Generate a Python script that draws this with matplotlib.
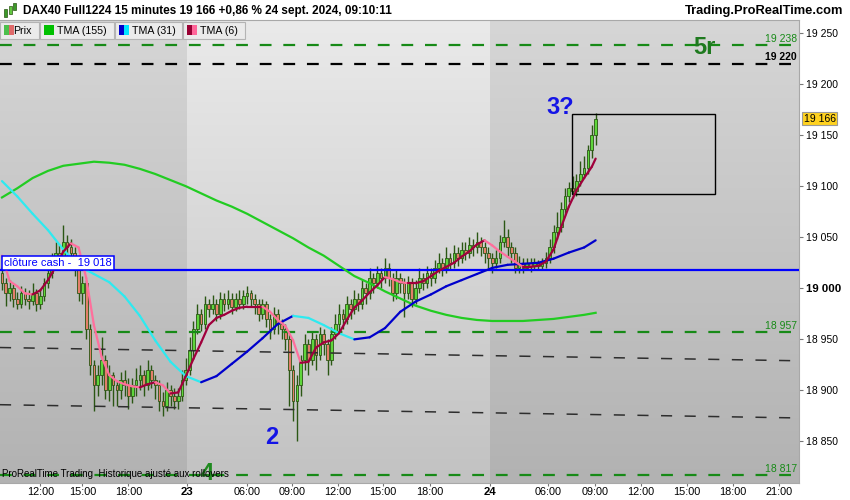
import numpy as np
import matplotlib
matplotlib.use('Agg')
import matplotlib.pyplot as plt
from matplotlib.patches import Rectangle
from matplotlib.collections import LineCollection
from matplotlib.colors import LinearSegmentedColormap
from matplotlib.transforms import blended_transform_factory

plt.rcParams['font.family'] = ['Liberation Sans', 'DejaVu Sans']
plt.rcParams['lines.scale_dashes'] = False

# ---- data : DAX40 Full1224, 15 minute bars (20 -> 24 sept. 2024) ----
first_open = 19015
close = [19005, 18995, 19000, 18990, 18985, 18995, 18990, 18988, 18995, 18985,
         18992, 19005, 19015, 19028, 19035, 19030, 19045, 19040, 19035, 19020,
         18995, 19005, 18960, 18925, 18905, 18915, 18930, 18900, 18915, 18905,
         18900, 18910, 18905, 18895, 18905, 18910, 18915, 18905, 18920, 18910,
         18905, 18890, 18885, 18900, 18895, 18890, 18895, 18910, 18920, 18940,
         18960, 18975, 18965, 18985, 18980, 18985, 18975, 18990, 18985, 18990,
         18982, 18990, 18985, 18992, 18995, 18990, 18985, 18975, 18985, 18970,
         18960, 18975, 18965, 18960, 18950, 18920, 18890, 18905, 18930, 18945,
         18930, 18950, 18935, 18955, 18945, 18930, 18955, 18965, 18975, 18970,
         18985, 18980, 18990, 18985, 19000, 18995, 19010, 19005, 19015, 19010,
         19020, 19010, 18995, 19010, 19005, 18995, 19005, 18990, 19000, 19010,
         19005, 19015, 19010, 19020, 19025, 19020, 19030, 19025, 19035, 19030,
         19038, 19035, 19042, 19040, 19045, 19040, 19035, 19030, 19025, 19030,
         19045, 19050, 19040, 19035, 19020, 19025, 19020, 19025, 19022, 19025,
         19022, 19025, 19030, 19040, 19055, 19060, 19078, 19090, 19098, 19095,
         19105, 19112, 19118, 19135, 19150, 19166]
high = [19022, 19010, 19008, 19004, 18996, 19002, 19000, 18998, 19005, 18999,
        18998, 19010, 19022, 19035, 19045, 19042, 19062, 19052, 19048, 19040,
        19025, 19012, 19008, 18965, 18930, 18925, 18952, 18935, 18925, 18918,
        18910, 18918, 18920, 18912, 18912, 18922, 18925, 18920, 18930, 18925,
        18915, 18910, 18898, 18908, 18905, 18902, 18902, 18920, 18932, 18952,
        18968, 18985, 18980, 18992, 18990, 18993, 18990, 18996, 18995, 18998,
        18995, 18995, 18998, 18998, 19002, 18998, 18994, 18990, 18990, 18988,
        18975, 18982, 18980, 18970, 18965, 18955, 18925, 18915, 18935, 18955,
        18950, 18958, 18955, 18962, 18960, 18950, 18962, 18975, 18985, 18980,
        18992, 18990, 18998, 18995, 19008, 19005, 19020, 19015, 19022, 19020,
        19030, 19025, 19015, 19018, 19015, 19010, 19012, 19010, 19008, 19020,
        19015, 19022, 19020, 19028, 19035, 19030, 19040, 19035, 19042, 19040,
        19045, 19045, 19050, 19048, 19055, 19050, 19045, 19040, 19035, 19038,
        19052, 19067, 19058, 19045, 19040, 19032, 19030, 19030, 19030, 19030,
        19028, 19030, 19036, 19048, 19062, 19075, 19085, 19098, 19104, 19110,
        19112, 19125, 19130, 19140, 19160, 19172]
low = [18998, 18983, 18988, 18982, 18980, 18981, 18984, 18980, 18984, 18978,
       18980, 18988, 19000, 19010, 19022, 19022, 19025, 19032, 19025, 19012,
       18988, 18985, 18950, 18915, 18880, 18895, 18905, 18892, 18890, 18885,
       18885, 18892, 18895, 18882, 18888, 18895, 18900, 18895, 18900, 18902,
       18892, 18880, 18875, 18880, 18885, 18882, 18882, 18890, 18905, 18915,
       18932, 18955, 18958, 18960, 18972, 18975, 18968, 18970, 18978, 18980,
       18975, 18978, 18980, 18980, 18985, 18982, 18975, 18968, 18970, 18962,
       18950, 18955, 18955, 18950, 18940, 18885, 18870, 18850, 18895, 18920,
       18915, 18925, 18920, 18930, 18935, 18915, 18925, 18950, 18958, 18960,
       18965, 18970, 18975, 18978, 18980, 18985, 18990, 18995, 19000, 19000,
       19005, 19002, 18988, 18990, 18995, 18972, 18990, 18982, 18985, 18995,
       18998, 19000, 19002, 19005, 19015, 19012, 19015, 19018, 19020, 19022,
       19025, 19028, 19030, 19032, 19035, 19032, 19025, 19020, 19015, 19020,
       19025, 19040, 19032, 19025, 19015, 19015, 19015, 19018, 19016, 19018,
       19018, 19018, 19020, 19025, 19035, 19048, 19055, 19072, 19085, 19088,
       19090, 19100, 19108, 19112, 19128, 19140]

# indicators (TMA 6 every 2 bars, TMA 31/155 every 4 bars, + last bar)
tma6 = [19032, 19007, 19002, 18995, 18994, 18998, 19008, 19021, 19036, 19044,
        19040, 19010, 18964, 18933, 18915, 18909, 18906, 18904, 18903, 18906,
        18908, 18905, 18897, 18898, 18914, 18931, 18947, 18964, 18971, 18974,
        18978, 18981, 18982, 18982, 18982, 18977, 18969, 18963, 18949, 18927,
        18928, 18942, 18947, 18949, 18956, 18969, 18981, 18988, 18996, 19003,
        19011, 19009, 19006, 19005, 19005, 19007, 19012, 19017, 19021, 19025,
        19031, 19036, 19043, 19047, 19042, 19036, 19031, 19026, 19021, 19021,
        19022, 19026, 19038, 19060, 19080, 19096, 19108, 19119, 19127]
tma31 = [19105, 19090, 19073, 19057, 19038, 19022, 19014, 19006, 18992, 18973,
         18949, 18928, 18914, 18908, 18914, 18926, 18938, 18951, 18965, 18973,
         18971, 18964, 18956, 18950, 18952, 18961, 18977, 18987, 18994, 19002,
         19008, 19014, 19020, 19023, 19024, 19025, 19029, 19035, 19040, 19047]
tma155 = [19089, 19098, 19108, 19115, 19120, 19122, 19124, 19123, 19121, 19117,
          19112, 19106, 19100, 19093, 19086, 19080, 19073, 19065, 19057, 19049,
          19040, 19032, 19022, 19012, 19005, 18997, 18990, 18983, 18978, 18974,
          18971, 18969, 18968, 18968, 18968, 18969, 18970, 18972, 18974, 18976]

# time axis (bar index of each label)
xtick_pos = [10, 21, 33, 48.3, 64, 75.7, 87.7, 99.5, 111.7, 127.4,
             142.6, 154.8, 166.8, 178.9, 190.9, 202.9]
xtick_labels = ['12:00', '15:00', '18:00', '23', '06:00', '09:00', '12:00', '15:00',
                '18:00', '24', '06:00', '09:00', '12:00', '15:00', '18:00', '21:00']
day_edges = [-0.52, 48.3, 127.4, 208.1]

# drawn objects
green_levels = [19238, 18957, 18817]
black_level = 19220
cash_close = 19018
channel_upper = [18942, 18929]
channel_lower = [18886, 18873]
box_x = [148.8, 186.2]
box_y = [19092, 19171]
last_price = 19166

W, H = 850, 500
def fx(px):
    return px / W
def fy(py):
    return 1 - py / H

fig = plt.figure(figsize=(8.5, 5), dpi=100)
fig.patch.set_facecolor('white')
ax = fig.add_axes([0, fy(483), fx(799), fy(20) - fy(483)])

xmin, xmax = day_edges[0], day_edges[-1]
ymin, ymax = 18809.3, 19262.8

# day backgrounds (vertical gradient)
shades = [('#b2b2b2', '#d6d6d6'), ('#c2c2c2', '#eaeaea'), ('#b2b2b2', '#d6d6d6')]
grad = np.linspace(0, 1, 256).reshape(-1, 1)
for (x0, x1), (bot, top) in zip(zip(day_edges[:-1], day_edges[1:]), shades):
    cmap = LinearSegmentedColormap.from_list('bg', [bot, top])
    ax.imshow(grad, cmap=cmap, origin='lower', aspect='auto',
              extent=(x0, x1, ymin, ymax), zorder=0)

# candles
xs = np.arange(len(close))
c = np.array(close, float)
o = np.r_[first_open, c[:-1]]
up = c >= o
bottom = np.minimum(o, c)
height = np.maximum(np.abs(c - o), 1.0)
ax.vlines(xs, low, high, color='#2b5714', lw=1.0, zorder=2)
ax.bar(xs, height, bottom=bottom, width=0.7,
       color=np.where(up, '#5fd63c', '#e47f6a'), edgecolor='#2b5714',
       linewidth=0.6, zorder=2)

# levels
for v in green_levels:
    ax.axhline(v, color='#178a17', lw=1.6, linestyle=(0, (8.5, 8.5)), zorder=3)
ax.axhline(black_level, color='black', lw=1.6, linestyle=(0, (8.5, 8.5)), zorder=3)
ax.plot([xmin, xmax], channel_upper, color='#2e2e2e', lw=1.1, linestyle=(0, (8, 9)), zorder=3)
ax.plot([xmin, xmax], channel_lower, color='#2e2e2e', lw=1.1, linestyle=(0, (8, 9)), zorder=3)
ax.axhline(cash_close, color='#0000ff', lw=1.6, zorder=3)
ax.add_patch(Rectangle((box_x[0], box_y[0]), box_x[1] - box_x[0], box_y[1] - box_y[0],
                       fill=False, ec='black', lw=1.0, zorder=3))

# moving averages
def slope_line(x, y, col_up, col_down, lw=1.6):
    y = np.asarray(y, float)
    pts = np.column_stack([x, y])
    segs = np.stack([pts[:-1], pts[1:]], axis=1)
    cols = [col_up if b >= a else col_down for a, b in zip(y[:-1], y[1:])]
    ax.add_collection(LineCollection(segs, colors=cols, linewidths=lw,
                                     capstyle='round', zorder=4))

last = len(close) - 1
x2 = np.r_[np.arange(0, last, 2), last]
x4 = np.r_[np.arange(0, last, 4), last]
ax.plot(x4, tma155, color='#22cc22', lw=1.6, zorder=4)
slope_line(x4, tma31, '#0000cc', '#2eeaf0')
slope_line(x2, tma6, '#a0003c', '#ff6f9c')

# texts on chart
ytr = blended_transform_factory(ax.transAxes, ax.transData)
for v in green_levels:
    ax.text(0.9975, v + 1.5, f'{v:,}'.replace(',', ' '), transform=ytr, ha='right',
            va='bottom', color='#178a17', fontsize=7.5, zorder=6)
ax.text(0.9975, black_level + 1.5, f'{black_level:,}'.replace(',', ' '), transform=ytr,
        ha='right', va='bottom', color='black', fontsize=7.5, weight='bold', zorder=6)
ax.text(0.005, 19024.8, 'clôture cash -  19 018', transform=ytr, ha='left', va='center',
        color='#0000ff', fontsize=8, zorder=6,
        bbox=dict(boxstyle='square,pad=0.18', fc='white', ec='#0000ff', lw=1.1))
ax.text(183.3, 19236, '5r', color='#1f7a1f', fontsize=17, weight='bold',
        ha='center', va='center', zorder=6)
ax.text(145.7, 19177, '3?', color='#1414e6', fontsize=17, weight='bold',
        ha='center', va='center', zorder=6)
ax.text(70.5, 18854, '2', color='#1414e6', fontsize=17, weight='bold',
        ha='center', va='center', zorder=6)
ax.text(53.5, 18819, '4', color='#1f8a1f', fontsize=17, weight='bold',
        ha='center', va='center', zorder=6)
ax.text(0.003, 18818.5, 'ProRealTime Trading  Historique ajusté aux rollovers',
        transform=ytr, ha='left', va='center', fontsize=7, zorder=6)

# axes
ax.set_xlim(xmin, xmax)
ax.set_ylim(ymin, ymax)
yt = np.arange(18850, 19251, 50)
ax.set_yticks(yt, [f'{v:,}'.replace(',', ' ') for v in yt])
ax.yaxis.tick_right()
for lab in ax.get_yticklabels():
    lab.set_fontsize(7.5)
    if lab.get_text() == '19 000':
        lab.set_fontweight('bold')
        lab.set_fontsize(8.2)
ax.set_xticks(xtick_pos, xtick_labels)
for lab in ax.get_xticklabels():
    if len(lab.get_text()) == 2:
        lab.set_fontweight('bold')
        lab.set_fontsize(8.2)
    else:
        lab.set_fontsize(7.8)
ax.tick_params(axis='y', length=3, color='#777777', pad=2)
ax.tick_params(axis='x', length=2, color='#777777', pad=1)
ax.spines['left'].set_visible(False)
for side in ['right', 'bottom', 'top']:
    ax.spines[side].set_color('#a8a8a8')
ax.text(1.006, last_price, f'{last_price:,}'.replace(',', ' '), transform=ytr,
        ha='left', va='center', fontsize=7.5, zorder=6, clip_on=False,
        bbox=dict(boxstyle='square,pad=0.15', fc='#ffd21f', ec='#9a9a9a', lw=0.8))

# header
fig.text(fx(23), fy(11), 'DAX40 Full1224 15 minutes 19 166 +0,86 % 24 sept. 2024, 09:10:11',
         fontsize=8.5, weight='bold', va='center')
fig.text(fx(843), fy(11), 'Trading.ProRealTime.com', fontsize=9.3, weight='bold',
         va='center', ha='right')
for px, y0, y1, col in [(5, 9, 17, '#3c9a2a'), (10, 6, 14, '#62c840'), (15, 3, 10, '#3c9a2a')]:
    fig.add_artist(Rectangle((fx(px - 1.5), fy(y1)), fx(3), (y1 - y0) / H,
                             transform=fig.transFigure, fc=col, ec='#2b5714', lw=0.5))

# legend row
legend_items = [('Prix', '#4cc04c', '#e06a6a', 0, 39),
                ('TMA (155)', '#00c000', '#00c000', 40, 114),
                ('TMA (31)', '#0000cc', '#00e5ff', 115, 182),
                ('TMA (6)', '#990033', '#ff6699', 183, 245)]
for name, c1, c2, x0, x1 in legend_items:
    fig.add_artist(Rectangle((fx(x0), fy(39)), fx(x1 - x0), 17 / H, transform=fig.transFigure,
                             fc='#ebebeb', ec='#b4b4b4', lw=0.8, zorder=7))
    tx = x0 + 17 if name != 'Prix' else x0 + 13
    fig.text(fx(tx), fy(30.5), name, fontsize=7.7, va='center', zorder=8)
    fig.add_artist(Rectangle((fx(x0 + 4), fy(35)), fx(5), 10 / H, transform=fig.transFigure,
                             fc=c1, ec='none', zorder=9))
    fig.add_artist(Rectangle((fx(x0 + 9), fy(35)), fx(5), 10 / H, transform=fig.transFigure,
                             fc=c2, ec='none', zorder=9))

fig.savefig('out.png', dpi=100)
